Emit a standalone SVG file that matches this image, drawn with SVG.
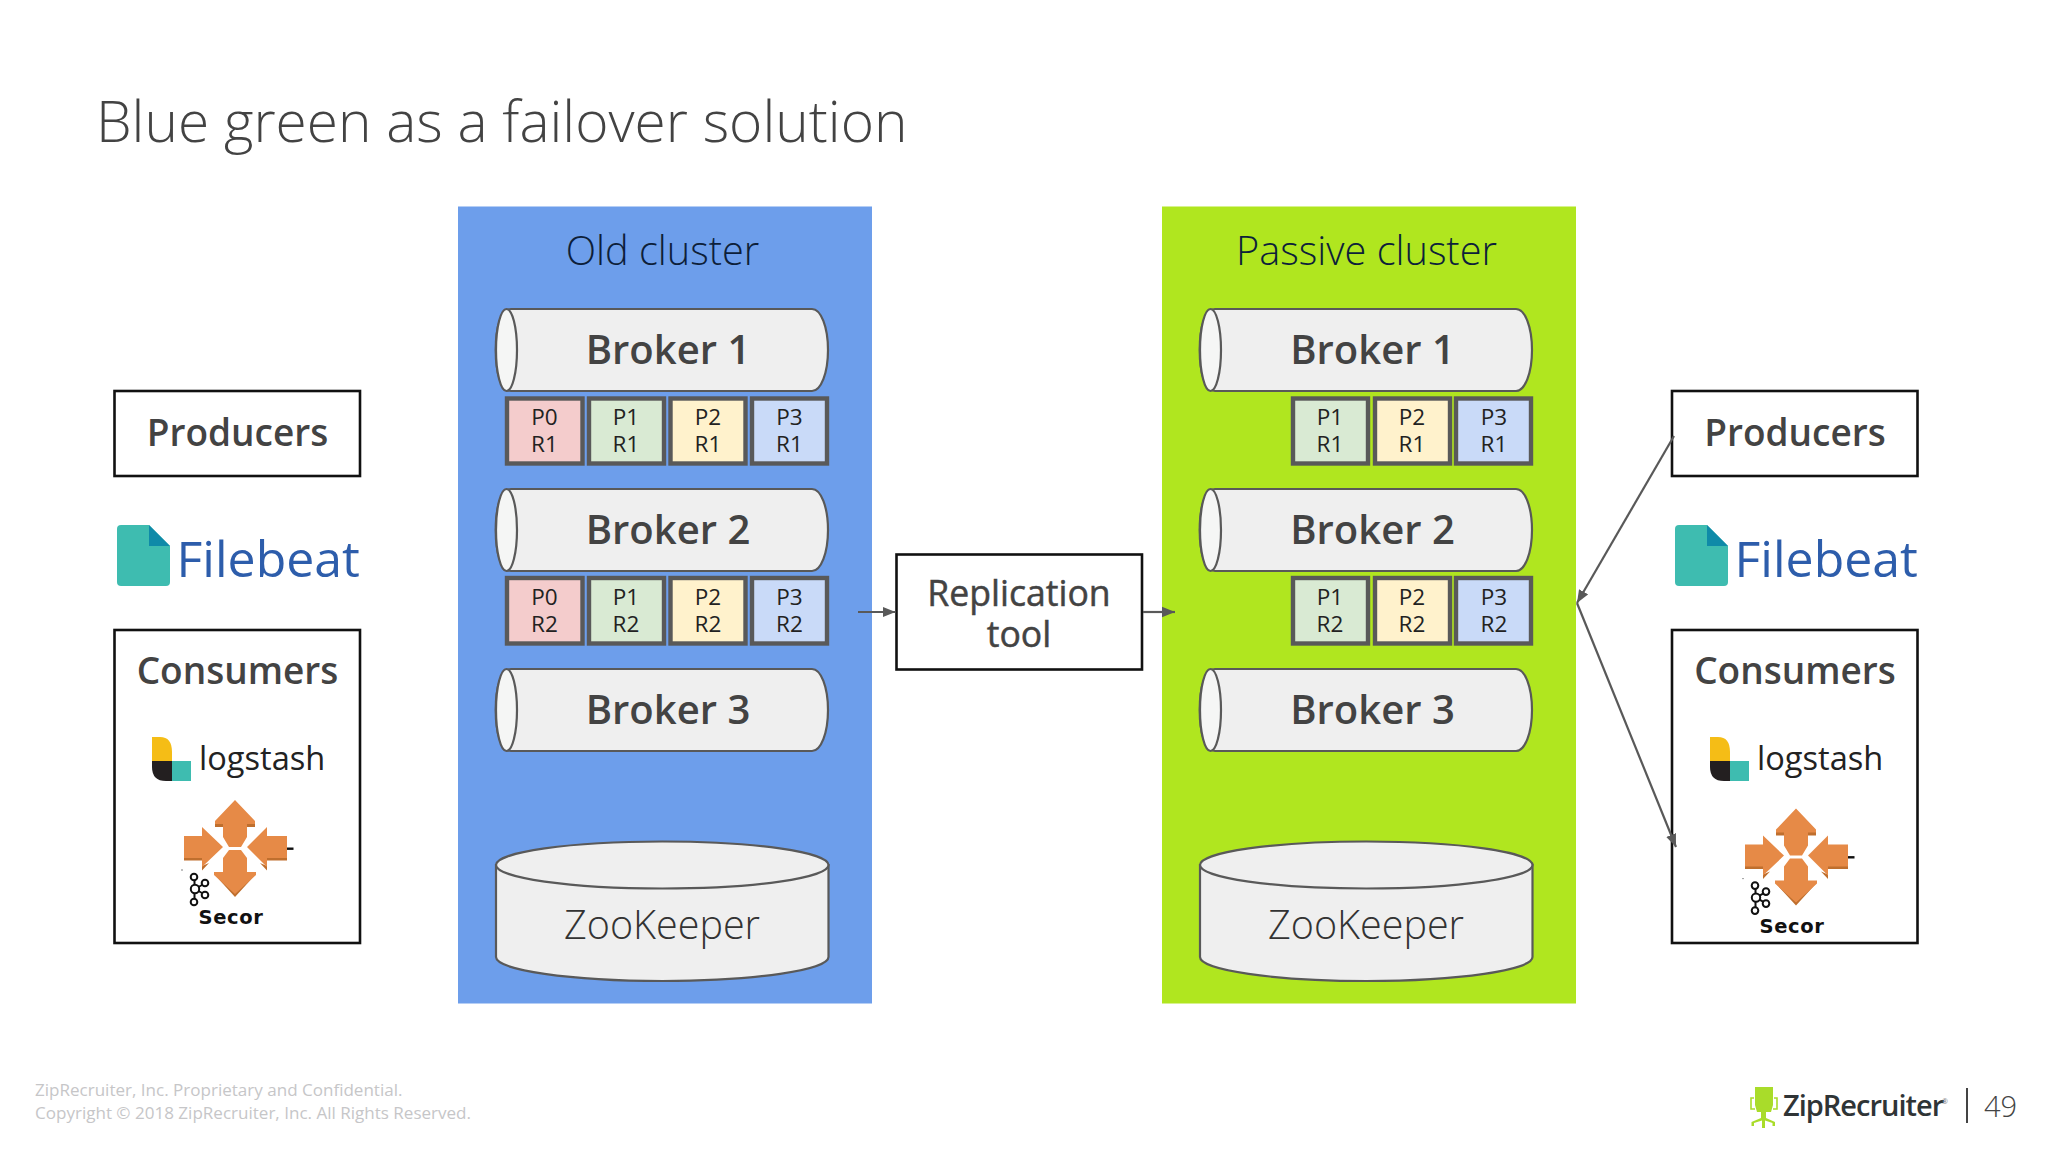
<svg xmlns="http://www.w3.org/2000/svg" xmlns:xlink="http://www.w3.org/1999/xlink" width="2048" height="1152" viewBox="0 0 2048 1152">
<style>
text{font-family:"Open Sans","Noto Sans","Liberation Sans",sans-serif}
.box{fill:#fff;stroke:#111;stroke-width:2.6}
.cyl{fill:#efefef;stroke:#595959;stroke-width:2.2}
.cap{fill:#f5f6f5;stroke:#595959;stroke-width:2.2}
.bk{font-size:40px;font-weight:600;fill:#434343;text-anchor:middle}
.cl{font-size:39.700px;font-weight:300;fill:#0d1f3a;text-anchor:middle}
.zk{font-size:39.500px;font-weight:300;fill:#333;text-anchor:middle}
.lb{font-size:37px;font-weight:600;fill:#434343;text-anchor:middle}
.rp{font-size:35.600px;fill:#434343;stroke:#434343;stroke-width:.5px;text-anchor:middle}
.p{font-size:22.500px;fill:#222;text-anchor:middle}
.pr{stroke:#595959;stroke-width:4.400}
.c0{fill:#f4cccc}.c1{fill:#d9ead3}.c2{fill:#fff2cc}.c3{fill:#c9daf8}
.conn{fill:none;stroke:#595959;stroke-width:2.200}
.fb{font-size:50px;fill:#2d5dab}
.ls{font-size:32.600px;fill:#222}
.sc{font-family:"DejaVu Sans",sans-serif;font-size:19.500px;font-weight:700;fill:#111;letter-spacing:.6px}
.or{fill:#e68a47}
.sh{fill:#bf6f2e}
.kf{fill:none;stroke:#111;stroke-width:2}
.ft{font-size:17.050px;fill:#c6c6c8}
</style>
<defs>
<marker id="ah" markerUnits="userSpaceOnUse" markerWidth="14" markerHeight="12" refX="13" refY="6" orient="auto"><path d="M0 .8L13 6L0 11.200z" fill="#595959"/></marker>
<g id="cyl"><path class="cyl" d="M511 0H812C821 0 828 18 828 41S821 82 812 82H511C501 82 495.700 64 495.700 41S501 0 511 0z"/><ellipse class="cap" cx="506.500" cy="41" rx="10.500" ry="41"/></g>
<g id="zk"><path class="cyl" d="M496 865V957C496 970 570 981 662.500 981S828.500 970 828.500 957V865z"/><ellipse class="cyl" cx="662.250" cy="865" rx="166.250" ry="23.500"/></g>
<g id="filebeat">
<path d="M121 525H149L170 546V582Q170 586 166 586H121Q117 586 117 582V529Q117 525 121 525z" fill="#3ebcb0"/>
<path d="M149 525L170 546H149z" fill="#0f8aa8"/>
<text class="fb" x="176.500" y="576.500">Filebeat</text>
</g>
<g id="logstash">
<path d="M152 737H160Q172 737 172 752V761H152z" fill="#f5bd16"/>
<path d="M152 761H172V781H166Q152 781 152 767z" fill="#231f20"/>
<rect x="172" y="761" width="19" height="20" fill="#3ebcb0"/>
<text class="ls" x="199" y="770">logstash</text>
</g>
<g id="secor">
<path class="sh" d="M215 823H223V827H215zM247 823H255V827H247zM184 857H202V860.500H184zM267 857H287V860.500H267zM202 866L202 870.500L209 863zM267 866V870.500L260 863zM214 874L235 897L256 874L235 893z"/>
<path class="or" d="M235 800L255 821V824H247V837L241 847H229L223 837V824H215V821z"/>
<path class="or" d="M235 894L256 875V872H247V858L241 850H229L223 858V872H214V875z"/>
<path class="or" d="M184 836H202V827L223 847L202 867V858H184z"/>
<path class="or" d="M287 836H267V827L247 847L267 867V858H287z"/>
<rect x="287" y="847.500" width="6.500" height="2.400" fill="#111"/>
<g class="kf"><circle cx="194" cy="877" r="3.300"/><circle cx="195" cy="889" r="4.200"/><circle cx="194" cy="902" r="3.300"/><circle cx="205" cy="883" r="3.300"/><circle cx="205" cy="895" r="3.300"/><path d="M194.500 880V885M194.500 893V899M198.500 887L202 885M198.500 891L202 893"/></g>
<circle cx="182" cy="870" r=".7" fill="#555"/>
<text class="sc" x="198.500" y="924">Secor</text>
</g>
</defs>
<rect width="2048" height="1152" fill="#fff"/>
<text id="title" x="96" y="142" font-size="56.800" font-weight="300" fill="#434343">Blue green as a failover solution</text>

<g id="old-cluster">
<rect x="458" y="206.500" width="414" height="797" fill="#6d9eeb"/>
<text class="cl" x="662.500" y="265">Old cluster</text>
</g>
<g id="passive-cluster">
<rect x="1162" y="206.500" width="414" height="797" fill="#b0e61f"/>
<text class="cl" x="1366.500" y="265">Passive cluster</text>
</g>

<g id="old-broker-1"><use xlink:href="#cyl" href="#cyl" y="309"/><text class="bk" x="668" y="364">Broker 1</text></g>
<g id="old-broker-1-partitions">
<rect class="pr c0" x="507" y="398.500" width="75.500" height="65"/><text class="p" x="544.500" y="425">P0</text><text class="p" x="544.500" y="452">R1</text>
<rect class="pr c1" x="589" y="398.500" width="75" height="65"/><text class="p" x="626" y="425">P1</text><text class="p" x="626" y="452">R1</text>
<rect class="pr c2" x="670.500" y="398.500" width="75" height="65"/><text class="p" x="708" y="425">P2</text><text class="p" x="708" y="452">R1</text>
<rect class="pr c3" x="752" y="398.500" width="75" height="65"/><text class="p" x="789.500" y="425">P3</text><text class="p" x="789.500" y="452">R1</text>
</g>
<g id="old-broker-2"><use xlink:href="#cyl" href="#cyl" y="489"/><text class="bk" x="668" y="544">Broker 2</text></g>
<g id="old-broker-2-partitions">
<rect class="pr c0" x="507" y="578" width="75.500" height="65.500"/><text class="p" x="544.500" y="605">P0</text><text class="p" x="544.500" y="632">R2</text>
<rect class="pr c1" x="589" y="578" width="75" height="65.500"/><text class="p" x="626" y="605">P1</text><text class="p" x="626" y="632">R2</text>
<rect class="pr c2" x="670.500" y="578" width="75" height="65.500"/><text class="p" x="708" y="605">P2</text><text class="p" x="708" y="632">R2</text>
<rect class="pr c3" x="752" y="578" width="75" height="65.500"/><text class="p" x="789.500" y="605">P3</text><text class="p" x="789.500" y="632">R2</text>
</g>
<g id="old-broker-3"><use xlink:href="#cyl" href="#cyl" y="669"/><text class="bk" x="668" y="724">Broker 3</text></g>
<g id="old-zookeeper"><use xlink:href="#zk" href="#zk"/><text class="zk" x="662" y="939">ZooKeeper</text></g>

<g id="passive-broker-1"><use xlink:href="#cyl" href="#cyl" x="704" y="309"/><text class="bk" x="1372.500" y="364">Broker 1</text></g>
<g id="passive-broker-1-partitions">
<rect class="pr c1" x="1293" y="398.500" width="75" height="65"/><text class="p" x="1330" y="425">P1</text><text class="p" x="1330" y="452">R1</text>
<rect class="pr c2" x="1375" y="398.500" width="75" height="65"/><text class="p" x="1412" y="425">P2</text><text class="p" x="1412" y="452">R1</text>
<rect class="pr c3" x="1456" y="398.500" width="75" height="65"/><text class="p" x="1494" y="425">P3</text><text class="p" x="1494" y="452">R1</text>
</g>
<g id="passive-broker-2"><use xlink:href="#cyl" href="#cyl" x="704" y="489"/><text class="bk" x="1372.500" y="544">Broker 2</text></g>
<g id="passive-broker-2-partitions">
<rect class="pr c1" x="1293" y="578" width="75" height="65.500"/><text class="p" x="1330" y="605">P1</text><text class="p" x="1330" y="632">R2</text>
<rect class="pr c2" x="1375" y="578" width="75" height="65.500"/><text class="p" x="1412" y="605">P2</text><text class="p" x="1412" y="632">R2</text>
<rect class="pr c3" x="1456" y="578" width="75" height="65.500"/><text class="p" x="1494" y="605">P3</text><text class="p" x="1494" y="632">R2</text>
</g>
<g id="passive-broker-3"><use xlink:href="#cyl" href="#cyl" x="704" y="669"/><text class="bk" x="1372.500" y="724">Broker 3</text></g>
<g id="passive-zookeeper"><use xlink:href="#zk" href="#zk" x="704"/><text class="zk" x="1366" y="939">ZooKeeper</text></g>

<g id="replication-tool">
<rect class="box" x="896.500" y="554.500" width="245.500" height="115"/>
<text class="rp" x="1019" y="606">Replication</text><text class="rp" x="1019" y="647">tool</text>
</g>

<g id="left-producers"><rect class="box" x="114.500" y="391" width="245.500" height="85"/><text class="lb" x="237.500" y="445.500">Producers</text></g>
<g id="left-filebeat"><use xlink:href="#filebeat" href="#filebeat"/></g>
<g id="left-consumers"><rect class="box" x="114.500" y="630" width="245.500" height="313"/><text class="lb" x="237.500" y="683.500">Consumers</text>
<use xlink:href="#logstash" href="#logstash"/><use xlink:href="#secor" href="#secor"/></g>

<g id="right-producers"><rect class="box" x="1672" y="391" width="245.500" height="85"/><text class="lb" x="1795" y="445.500">Producers</text></g>
<g id="right-filebeat"><use xlink:href="#filebeat" href="#filebeat" x="1558"/></g>
<g id="right-consumers"><rect class="box" x="1672" y="630" width="245.500" height="313"/><text class="lb" x="1795" y="683.500">Consumers</text>
<use xlink:href="#logstash" href="#logstash" x="1558"/><use xlink:href="#secor" href="#secor" x="1561" y="8.600"/></g>

<g id="connectors">
<path class="conn" d="M858 612H895.500" marker-end="url(#ah)"/>
<path class="conn" d="M1143 612H1175" marker-end="url(#ah)"/>
<path class="conn" d="M1674 436L1577 603" marker-end="url(#ah)"/>
<path class="conn" d="M1577 603L1676 847" marker-end="url(#ah)"/>
</g>

<g id="footer">
<text class="ft" x="35" y="1096">ZipRecruiter, Inc. Proprietary and Confidential.</text>
<text class="ft" x="35" y="1119">Copyright © 2018 ZipRecruiter, Inc. All Rights Reserved.</text>
</g>
<g id="ziprecruiter-logo">
<path d="M1755 1087H1773V1105L1771 1112H1766V1118L1775 1122V1126H1772.500V1123L1765 1120.500V1128H1762V1120.500L1754 1123V1126H1751.500V1122L1761 1118V1112H1757L1755 1105z" fill="#a9dc2a"/>
<path d="M1754 1098H1751V1109H1755M1774 1098H1777V1109H1773" fill="none" stroke="#a9dc2a" stroke-width="1.600"/>
<text x="1783" y="1116" font-size="29" font-weight="600" fill="#2f3436" letter-spacing="-1">ZipRecruiter</text>
<text x="1942" y="1104" font-size="7" fill="#777">®</text>
</g>
<rect id="page-divider" x="1966" y="1088" width="2" height="35" fill="#444"/>
<text id="page-number" x="1984" y="1116.500" font-size="29" font-weight="300" fill="#444">49</text>
</svg>
